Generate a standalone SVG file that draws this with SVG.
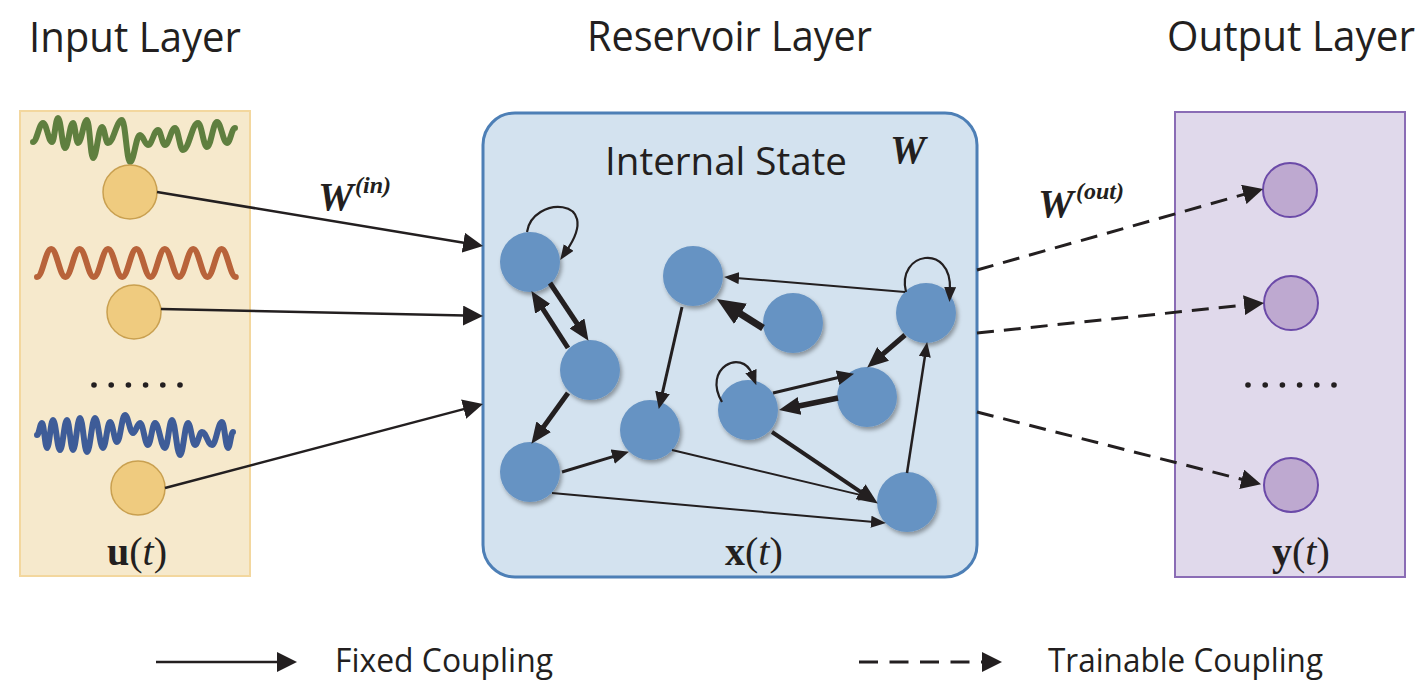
<svg xmlns="http://www.w3.org/2000/svg" width="1428" height="694" viewBox="0 0 1428 694">
<style>
.title{font-family:"Open Sans","Noto Sans","Liberation Sans",sans-serif;font-size:42px;fill:#231f20}
.leg{font-family:"Open Sans","Noto Sans","Liberation Sans",sans-serif;font-size:33px;fill:#231f20}
.math{font-family:"Liberation Serif","Times New Roman",serif;fill:#231f20}
.wl{font-family:"Liberation Serif","Times New Roman",serif;font-weight:bold;font-style:italic;fill:#231f20}
.ln{stroke:#231f20;fill:none;stroke-linecap:butt}
.dash{stroke:#231f20;fill:none;stroke-width:3;stroke-dasharray:17 10}
.rn{fill:#6693c3;filter:url(#sh)}
.in{fill:#efcb7f;stroke:#c9a050;stroke-width:1.5}
.on{fill:#bea9d0;stroke:#6b4aa8;stroke-width:2}
.wave{fill:none;stroke-width:6;stroke-linecap:round;stroke-linejoin:round}
</style>
<defs>
<filter id="sh" x="-40%" y="-40%" width="180%" height="180%">
<feDropShadow dx="2" dy="3" stdDeviation="2" flood-color="#000" flood-opacity="0.35"/>
</filter>
<marker id="hs" viewBox="0 0 15 12" refX="3" refY="6" markerWidth="15" markerHeight="12" markerUnits="userSpaceOnUse" orient="auto"><path d="M0,0 L15,6 L0,12 z" fill="#231f20"/></marker>
<marker id="hm" viewBox="0 0 17 15" refX="2" refY="7.5" markerWidth="17" markerHeight="15" markerUnits="userSpaceOnUse" orient="auto"><path d="M0,0 L17,7.5 L0,15 z" fill="#231f20"/></marker>
<marker id="hl" viewBox="0 0 21 18" refX="2" refY="9" markerWidth="21" markerHeight="18" markerUnits="userSpaceOnUse" orient="auto"><path d="M0,0 L21,9 L0,18 z" fill="#231f20"/></marker>
<marker id="hx" viewBox="0 0 28 24" refX="3" refY="12" markerWidth="28" markerHeight="24" markerUnits="userSpaceOnUse" orient="auto"><path d="M0,0 L28,12 L0,24 z" fill="#231f20"/></marker>
<marker id="hb" viewBox="0 0 20 20" refX="2" refY="10" markerWidth="20" markerHeight="20" markerUnits="userSpaceOnUse" orient="auto"><path d="M0,0 L20,10 L0,20 z" fill="#231f20"/></marker>
</defs>

<rect width="1428" height="694" fill="#ffffff"/>

<g id="titles">
<text class="title" x="29" y="52" textLength="212" lengthAdjust="spacingAndGlyphs">Input Layer</text>
<text class="title" x="587" y="51" textLength="285" lengthAdjust="spacingAndGlyphs">Reservoir Layer</text>
<text class="title" x="1167" y="51" textLength="248" lengthAdjust="spacingAndGlyphs">Output Layer</text>
</g>

<g id="input-layer">
<rect x="20" y="111" width="230" height="465" fill="#f6e9cc" stroke="#f3d79e" stroke-width="2"/>
<path class="wave" stroke="#5f7f3f" d="M33,142 C37,142 39,123 43,123 C46.6,123 48.4,142 52,142 C54.4,142 55.6,118 58,118 C60.8,118 62.2,148 65,148 C68.2,148 69.8,123 73,123 C75,123 76,143 78,143 C81.6,143 83.4,120 87,120 C89.4,120 90.6,158 93,158 C96.6,158 98.4,127 102,127 C104.4,127 105.6,143 108,143 C113.6,143 116.4,120 122,120 C125.2,120 126.8,162 130,162 C134,162 136,135 140,135 C143.2,135 144.8,145 148,145 C152,145 154,130 158,130 C160.8,130 162.2,145 165,145 C169,145 171,128 175,128 C178.2,128 179.8,150 183,150 C189,150 192,123 198,123 C201.6,123 203.4,147 207,147 C211,147 213,122 217,122 C221,122 223,143 227,143 C230.2,143 231.8,128 235,128"/>
<path class="wave" stroke="#b8633a" stroke-width="5" d="M37,277 C42.7,277 45.5,249 51.2,249 S59.7,277 65.4,277 S73.9,249 79.6,249 S88.1,277 93.8,277 S102.3,249 108,249 S116.5,277 122.2,277 S130.7,249 136.4,249 S144.9,277 150.6,277 S159.1,249 164.8,249 S173.3,277 179,277 S187.5,249 193.2,249 S201.7,277 207.4,277 S215.9,249 221.6,249 S230.1,277 235.8,277"/>
<path class="wave" stroke="#3e5c98" d="M37,435 C39,435 40,423 42,423 C44,423 45,448 47,448 C49.4,448 50.6,420 53,420 C55.8,420 57.2,450 60,450 C62.8,450 64.2,420 67,420 C69.4,420 70.6,450 73,450 C75.8,450 77.2,418 80,418 C82.8,418 84.2,452 87,452 C90.2,452 91.8,418 95,418 C98.2,418 99.8,448 103,448 C105.8,448 107.2,422 110,422 C112.8,422 114.2,442 117,442 C120.2,442 121.8,415 125,415 C128.2,415 129.8,433 133,433 C135.8,433 137.2,423 140,423 C143.2,423 144.8,445 148,445 C150.8,445 152.2,423 155,423 C159,423 161,448 165,448 C167.8,448 169.2,420 172,420 C175.2,420 176.8,455 180,455 C183.2,455 184.8,423 188,423 C190.8,423 192.2,445 195,445 C197.8,445 199.2,432 202,432 C206,432 208,445 212,445 C216,445 218,422 222,422 C224.4,422 225.6,448 228,448 C230,448 231,432 233,432"/>
<g fill="#231f20">
<circle cx="94" cy="385" r="2.8"/><circle cx="111.2" cy="385" r="2.8"/><circle cx="128.4" cy="385" r="2.8"/><circle cx="145.6" cy="385" r="2.8"/><circle cx="162.8" cy="385" r="2.8"/><circle cx="180" cy="385" r="2.8"/>
</g>
<text class="math" x="107" y="565" font-size="40"><tspan font-weight="bold">u</tspan>(<tspan font-style="italic">t</tspan>)</text>
</g>
<g id="in1"><circle class="in" cx="130" cy="192" r="27"/></g>
<g id="in2"><circle class="in" cx="134" cy="312" r="27"/></g>
<g id="in3"><circle class="in" cx="138" cy="488" r="27"/></g>

<g id="reservoir-layer">
<rect x="483" y="113" width="494" height="464" rx="32" ry="32" fill="#d3e2ef" stroke="#4d7fb6" stroke-width="3"/>
<text class="title" x="605" y="175" style="font-size:38px" textLength="242" lengthAdjust="spacingAndGlyphs">Internal State</text>
<text class="wl" x="890" y="163" font-size="40">W</text>
<text class="math" x="725" y="565" font-size="40"><tspan font-weight="bold">x</tspan>(<tspan font-style="italic">t</tspan>)</text>
</g>
<g id="r1"><circle class="rn" cx="530" cy="262" r="30"/></g>
<g id="r2"><circle class="rn" cx="590" cy="370" r="30"/></g>
<g id="r3"><circle class="rn" cx="530" cy="472" r="30"/></g>
<g id="r4"><circle class="rn" cx="650" cy="430" r="30"/></g>
<g id="r5"><circle class="rn" cx="693" cy="276" r="30"/></g>
<g id="r6"><circle class="rn" cx="793" cy="323" r="30"/></g>
<g id="r7"><circle class="rn" cx="926" cy="313" r="30"/></g>
<g id="r8"><circle class="rn" cx="748" cy="410" r="30"/></g>
<g id="r9"><circle class="rn" cx="867" cy="397" r="30"/></g>
<g id="r10"><circle class="rn" cx="907" cy="502" r="30"/></g>

<g id="output-layer">
<rect x="1175" y="112" width="230" height="465" fill="#e0d9eb" stroke="#8a6cb5" stroke-width="2"/>
<g fill="#231f20">
<circle cx="1248" cy="385" r="2.8"/><circle cx="1265.2" cy="385" r="2.8"/><circle cx="1282.4" cy="385" r="2.8"/><circle cx="1299.6" cy="385" r="2.8"/><circle cx="1316.8" cy="385" r="2.8"/><circle cx="1334" cy="385" r="2.8"/>
</g>
<text class="math" x="1272" y="565" font-size="40"><tspan font-weight="bold">y</tspan>(<tspan font-style="italic">t</tspan>)</text>
</g>
<g id="out1"><circle class="on" cx="1290" cy="190" r="27"/></g>
<g id="out2"><circle class="on" cx="1291" cy="303" r="27"/></g>
<g id="out3"><circle class="on" cx="1291" cy="485" r="27"/></g>

<g id="connectors">
<line class="ln" stroke-width="2.5" x1="157" y1="192" x2="465.3" y2="243" marker-end="url(#hb)"/>
<line class="ln" stroke-width="2.5" x1="161" y1="309" x2="465" y2="315.6" marker-end="url(#hb)"/>
<line class="ln" stroke-width="2.5" x1="165" y1="488" x2="465.6" y2="408.6" marker-end="url(#hb)"/>

<line class="dash" x1="977" y1="270" x2="1245.7" y2="193.9" marker-end="url(#hb)"/>
<line class="dash" x1="977" y1="333" x2="1246.1" y2="304.9" marker-end="url(#hb)"/>
<line class="dash" x1="977" y1="412" x2="1243.6" y2="479.8" marker-end="url(#hb)"/>

<path class="ln" stroke-width="2.2" d="M527,232 C532,196 604,196 567,250" marker-end="url(#hs)"/>
<line class="ln" stroke-width="5" x1="550" y1="283" x2="578" y2="325" marker-end="url(#hl)"/>
<line class="ln" stroke-width="5" x1="568" y1="348" x2="541.7" y2="307.1" marker-end="url(#hl)"/>
<line class="ln" stroke-width="5" x1="568" y1="393" x2="542.5" y2="428.4" marker-end="url(#hl)"/>
<line class="ln" stroke-width="3" x1="562" y1="472" x2="614.6" y2="456.1" marker-end="url(#hm)"/>
<line class="ln" stroke-width="2" x1="552" y1="493" x2="874" y2="522" marker-end="url(#hs)"/>
<line class="ln" stroke-width="2" x1="672" y1="450" x2="862.3" y2="495.4" marker-end="url(#hs)"/>
<line class="ln" stroke-width="3" x1="682" y1="307" x2="662.1" y2="394.4" marker-end="url(#hm)"/>
<line class="ln" stroke-width="7" x1="763" y1="328" x2="738" y2="312.3" marker-end="url(#hx)"/>
<line class="ln" stroke-width="2" x1="905" y1="292" x2="736" y2="277.9" marker-end="url(#hs)"/>
<path class="ln" stroke-width="2.2" d="M906,292 C896,252 952,242 950,290" marker-end="url(#hs)"/>
<line class="ln" stroke-width="5" x1="905" y1="335" x2="881.6" y2="355.2" marker-end="url(#hl)"/>
<path class="ln" stroke-width="2.2" d="M722,402 C702,368 742,348 752,374" marker-end="url(#hs)"/>
<line class="ln" stroke-width="3" x1="773" y1="393" x2="839.4" y2="377.2" marker-end="url(#hm)"/>
<line class="ln" stroke-width="5.5" x1="838" y1="398" x2="797.6" y2="406.3" marker-end="url(#hl)"/>
<line class="ln" stroke-width="4" x1="772" y1="432" x2="862.1" y2="492.9" marker-end="url(#hl)"/>
<line class="ln" stroke-width="2.5" x1="907" y1="473" x2="925.3" y2="353.9" marker-end="url(#hs)"/>
</g>

<g id="weight-labels">
<text class="wl" x="318" y="210" font-size="40">W</text>
<text class="wl" x="355" y="193" font-size="24">(in)</text>
<text class="wl" x="1038" y="217" font-size="40">W</text>
<text class="wl" x="1076" y="199" font-size="24">(out)</text>
</g>

<g id="legend">
<line class="ln" stroke-width="2.5" x1="156" y1="662" x2="279" y2="662" marker-end="url(#hb)"/>
<text class="leg" x="335" y="672" textLength="218" lengthAdjust="spacingAndGlyphs">Fixed Coupling</text>
<line stroke="#231f20" stroke-width="3" stroke-dasharray="19 11.5" x1="859" y1="662" x2="984" y2="662" marker-end="url(#hb)"/>
<text class="leg" x="1048" y="672" textLength="275" lengthAdjust="spacingAndGlyphs">Trainable Coupling</text>
</g>
</svg>
